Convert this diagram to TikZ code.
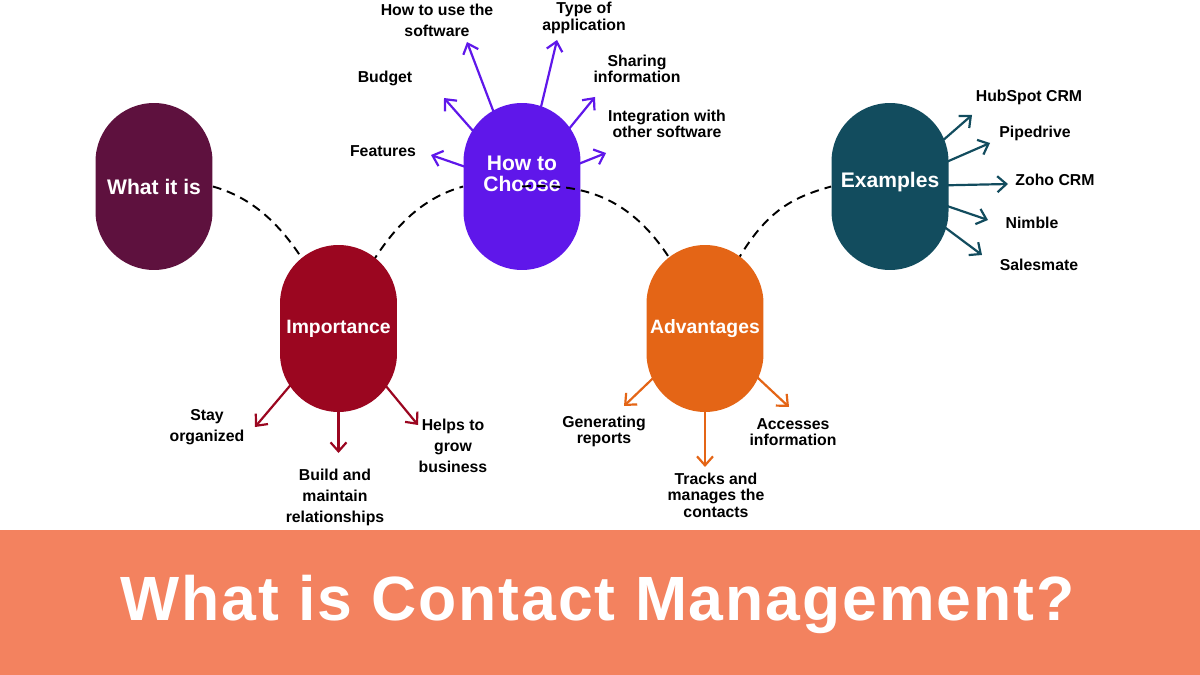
\documentclass[tikz,border=0pt]{standalone}
\usepackage{fontspec}
\setmainfont{Liberation Sans}
\newfontfamily\titlefont[LetterSpace=3]{Liberation Sans}
\definecolor{whatcol}{RGB}{94, 17, 62}
\definecolor{impcol}{RGB}{155, 6, 32}
\definecolor{choosecol}{RGB}{95, 23, 234}
\definecolor{advcol}{RGB}{228, 101, 22}
\definecolor{excol}{RGB}{18, 76, 94}
\definecolor{bannercol}{RGB}{243, 130, 95}
\usetikzlibrary{arrows.meta}
\pgfdeclarelayer{back}
\pgfdeclarelayer{front}
\pgfsetlayers{back,main,front}
\tikzset{
	pill/.style={rectangle, rounded corners=1.17cm, minimum width=2.34cm, minimum height=3.34cm, inner sep=0pt, text=white, align=center, font=\fontsize{12}{12}\selectfont\bfseries},
	smallpill/.style={pill, font=\fontsize{11}{11}\selectfont\bfseries},
	lbl/.style={align=center, inner sep=0pt, font=\fontsize{9}{12}\selectfont\bfseries},
	tightlbl/.style={align=center, inner sep=0pt, font=\fontsize{9}{9.4}\selectfont\bfseries},
	arrow/.style={-{Straight Barb[length=1.8mm, width=3.2mm]}, line width=1.25pt},
	link/.style={dash pattern=on 5pt off 3.4pt, line width=1.1pt, draw=black},
}

\begin{document}
\begin{tikzpicture}[x=0.02cm, y=-0.02cm]
	\useasboundingbox (0,0) rectangle (1200,675);
	\fill[bannercol] (0,530) rectangle (1200,675);
	\node[anchor=base, text=white, inner sep=0pt, font=\titlefont\fontsize{35.6}{40}\selectfont\bfseries] (title) at (597.5,620) {What is Contact Management?};

	% topics
	\node[pill, fill=whatcol] (what) at (154,186.5) {What it is};
	\node[smallpill, fill=impcol] (imp) at (338.5,328.5) {Importance};
	\node[pill, fill=choosecol, text depth=14pt] (choose) at (522,186.5) {How to\\Choose};
	\node[pill, fill=excol, text depth=7.5pt] (ex) at (890,186.5) {Examples};
	\begin{pgfonlayer}{front}
		\node[smallpill, fill=advcol] (adv) at (705,328.5) {Advantages};
	\end{pgfonlayer}

	% how to choose
	\node[lbl] (use) at (437,20) {How to use the\\software};
	\node[tightlbl] (type) at (584,18) {Type of\\application};
	\node[lbl] (budget) at (385,78) {Budget};
	\node[tightlbl] (sharing) at (637,69) {Sharing\\information};
	\node[tightlbl] (integ) at (667,124) {Integration with\\other software};
	\node[lbl] (features) at (383,151) {Features};
	\coordinate (tipuse) at (467,42);
	\coordinate (tiptype) at (557,40);
	\coordinate (tipbudget) at (444,98);
	\coordinate (tipsharing) at (595,97);
	\coordinate (tipfeatures) at (431,155);
	\coordinate (tipinteg) at (606,153);

	% examples
	\node[lbl] (hub) at (1029,97) {HubSpot CRM};
	\node[lbl] (pipe) at (1035,133) {Pipedrive};
	\node[lbl] (zoho) at (1055,180) {Zoho CRM};
	\node[lbl] (nimble) at (1032,223) {Nimble};
	\node[lbl] (sales) at (1039,265) {Salesmate};
	\coordinate (tiphub) at (972,115);
	\coordinate (tippipe) at (990,143);
	\coordinate (tipzoho) at (1008,184);
	\coordinate (tipnimble) at (988,220);
	\coordinate (tipsales) at (982,255);

	% importance
	\node[lbl] (stay) at (207,427) {Stay\\organized};
	\node[lbl] (build) at (335,497) {Build and\\maintain\\relationships};
	\node[lbl] (helps) at (453,446) {Helps to\\grow\\business};
	\coordinate (tipstay) at (255,427);
	\coordinate (tipbuild) at (338.5,453);
	\coordinate (tiphelps) at (418,425);

	% advantages
	\node[tightlbl] (gen) at (604,431.5) {Generating\\reports};
	\node[tightlbl] (tracks) at (716,495) {Tracks and\\manages the\\contacts};
	\node[tightlbl] (access) at (793,432) {Accesses\\information};
	\coordinate (tipgen) at (624,406);
	\coordinate (tiptracks) at (705,467);
	\coordinate (tipaccess) at (789,407);

	\begin{pgfonlayer}{back}
		\foreach \t in {use,type,budget,sharing,features,integ}{\draw[arrow, draw=choosecol] (choose.center) -- (tip\t);}
		\foreach \t in {hub,pipe,zoho,nimble,sales}{\draw[arrow, draw=excol] (ex.center) -- (tip\t);}
		\foreach \t in {stay,build,helps}{\draw[arrow, draw=impcol] (imp.center) -- (tip\t);}
		\foreach \t in {gen,tracks,access}{\draw[arrow, draw=advcol] (adv.center) -- (tip\t);}
		\draw[link] (what.east) .. controls +(50,14) and +(-38,-88) .. (imp.center);
		\draw[link] (imp.center) .. controls +(38,-88) and +(-50,14) .. (choose.west);
		\draw[link] (adv.center) .. controls +(45,-110) and +(-50,14) .. (ex.west);
	\end{pgfonlayer}
	\draw[link] (choose.center) .. controls +(90,-6) and +(-45,-110) .. (adv.center);
\end{tikzpicture}
\end{document}
